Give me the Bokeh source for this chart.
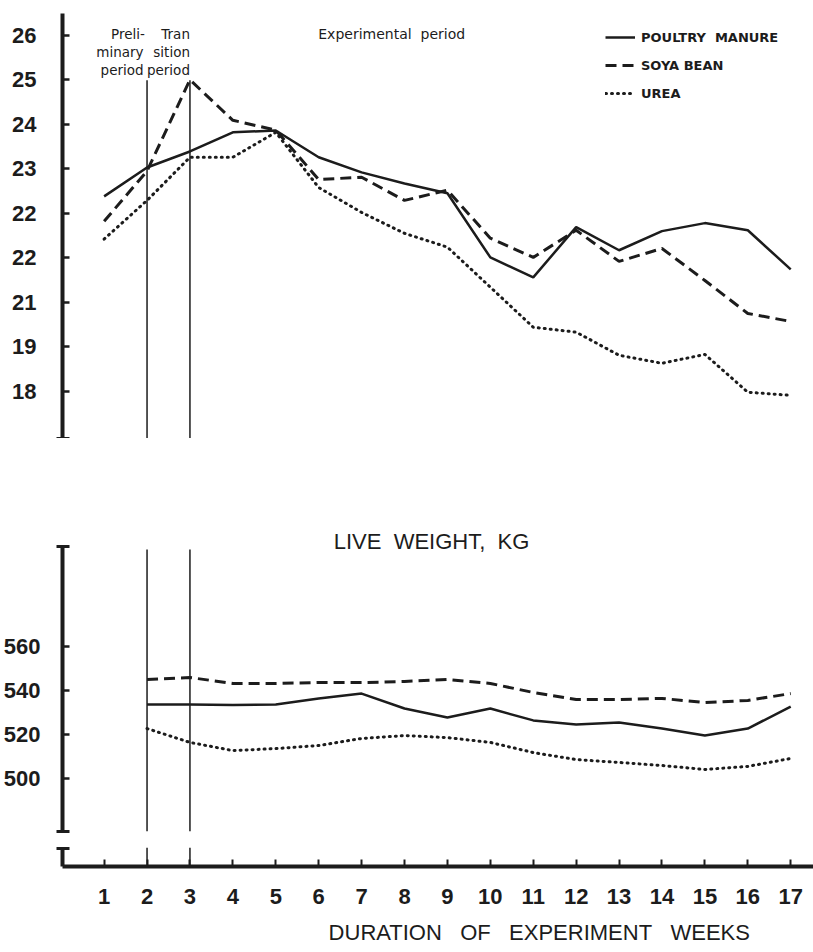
from bokeh.plotting import figure
from bokeh.models import Range1d, FixedTicker, Span, Label
from bokeh.layouts import column
from bokeh.embed import file_html
from bokeh.resources import INLINE

# ---------------- data ----------------
weeks = list(range(1, 18))
# upper panel (values on the printed scale positions)
poultry_top = [22.38, 23.03, 23.39, 23.82, 23.86, 23.26, 22.92, 22.67, 22.45,
               21.01, 20.56, 21.69, 21.17, 21.60, 21.78, 21.62, 20.74]
soya_top = [21.82, 22.95, 25.00, 24.09, 23.87, 22.76, 22.81, 22.29, 22.52,
            21.44, 21.01, 21.62, 20.92, 21.21, 20.49, 19.75, 19.57]
urea_top = [21.42, 22.29, 23.26, 23.26, 23.82, 22.58, 22.02, 21.55, 21.24,
            20.34, 19.44, 19.33, 18.81, 18.63, 18.83, 17.98, 17.91]
top_ticks = [26, 25, 24, 23, 22, 21, 20, 19, 18]
top_tick_labels = ["26", "25", "24", "23", "22", "22", "21", "19", "18"]

# lower panel: live weight, kg (weeks 2..17)
weeks_bottom = list(range(2, 18))
poultry_bottom = [533.6, 533.6, 533.4, 533.6, 536.4, 538.6, 531.8, 527.7,
                  531.8, 526.4, 524.5, 525.5, 522.7, 519.5, 522.7, 532.7]
soya_bottom = [545.0, 545.9, 543.2, 543.2, 543.6, 543.6, 544.1, 545.0,
               543.2, 539.1, 535.9, 535.9, 536.4, 534.5, 535.5, 538.6]
urea_bottom = [522.7, 516.4, 512.7, 513.6, 515.0, 518.2, 519.5, 518.6,
               516.4, 511.8, 508.6, 507.3, 505.9, 504.1, 505.5, 509.1]
bottom_ticks = [500, 520, 540, 560]

NB = "\u00a0"
series_names = ["POULTRY" + NB * 2 + "MANURE", "SOYA" + NB + "BEAN", "UREA"]
period_bounds = [2, 3]
x_tick_labels = [str(w) for w in weeks]

# ---------------- style ----------------
INK = "#1c1c1c"
W = 813
TICK_FONT = "Liberation Sans"
SMALL_FONT = "DejaVu Sans"

xr = Range1d(0.03, 17.531)

TOP_LO, TOP_HI = 16.94, 26.49
BOT_LO, BOT_HI, BOT_AXIS_HI = 475.91, 618.18, 605.45


def base(p):
    p.grid.visible = False
    p.outline_line_color = None
    p.background_fill_color = "white"
    p.border_fill_color = "white"


def style_y(ax, standoff, size="22px"):
    ax.axis_line_width = 4
    ax.axis_line_color = INK
    ax.major_tick_in = 7
    ax.major_tick_out = 0
    ax.major_tick_line_width = 2.5
    ax.major_tick_line_color = INK
    ax.minor_tick_in = 7
    ax.minor_tick_out = 6
    ax.minor_tick_line_width = 3
    ax.minor_tick_line_color = INK
    ax.major_label_text_font = TICK_FONT
    ax.major_label_text_font_size = size
    ax.major_label_text_font_style = "bold"
    ax.major_label_text_color = INK
    ax.major_label_standoff = standoff


def draw_series(p, xs, ys_list, with_legend):
    styles = [dict(line_width=2.5),
              dict(line_width=3, line_dash="11 6"),
              dict(line_width=3, line_dash="1 5", line_cap="round")]
    for ys, st, name in zip(ys_list, styles, series_names):
        kw = dict(st)
        if with_legend:
            kw["legend_label"] = name
        p.line(xs, ys, line_color=INK, **kw)


# ---------------- top panel ----------------
p1 = figure(width=W, height=438, x_range=xr, y_range=Range1d(TOP_LO, TOP_HI),
            output_backend="svg", toolbar_location=None, x_axis_location=None,
            min_border_left=55, min_border_right=0, min_border_top=13,
            min_border_bottom=0)
base(p1)
ay = p1.yaxis[0]
ay.ticker = FixedTicker(ticks=top_ticks, minor_ticks=[TOP_LO + 0.01])
ay.major_label_overrides = {t: l for t, l in zip(top_ticks, top_tick_labels)}
ay.bounds = (TOP_LO, TOP_HI)
style_y(ay, 20)

p1.segment(x0=period_bounds, y0=[TOP_LO] * 2, x1=period_bounds,
           y1=[24.99] * 2, line_width=1.5, line_color=INK)
draw_series(p1, weeks, [poultry_top, soya_top, urea_top], True)

leg = p1.legend[0]
leg.location = (543, 335)
leg.border_line_color = None
leg.background_fill_alpha = 0
leg.glyph_width = 30
leg.glyph_height = 20
leg.label_height = 20
leg.spacing = 8
leg.padding = 0
leg.margin = 0
leg.label_standoff = 6
leg.label_text_font = SMALL_FONT
leg.label_text_font_style = "bold"
leg.label_text_font_size = "13px"
leg.label_text_color = INK

for x, y, t in [(1.95, 26.03, "Preli-"), (1.92, 25.63, "minary"),
                (1.92, 25.22, "period"), (3.0, 26.03, "Tran"),
                (3.0, 25.63, "sition"), (3.0, 25.22, "period")]:
    p1.add_layout(Label(x=x, y=y, text=t, text_align="right",
                        text_baseline="middle", text_font=SMALL_FONT,
                        text_font_size="13.5px", text_color=INK))
p1.add_layout(Label(x=5.99, y=26.03, text="Experimental" + NB * 2 + "period",
                    text_align="left", text_baseline="middle",
                    text_font=SMALL_FONT, text_font_size="14px",
                    text_color=INK))

# ---------------- bottom panel ----------------
p2 = figure(width=W, height=401, x_range=xr, y_range=Range1d(BOT_LO, BOT_HI),
            output_backend="svg", toolbar_location=None, x_axis_location=None,
            min_border_left=55, min_border_right=0, min_border_top=80,
            min_border_bottom=8)
base(p2)
by = p2.yaxis[0]
by.ticker = FixedTicker(ticks=bottom_ticks,
                        minor_ticks=[BOT_LO + 0.04, BOT_AXIS_HI])
by.bounds = (BOT_LO, BOT_AXIS_HI)
style_y(by, 16)

p2.segment(x0=period_bounds, y0=[BOT_LO] * 2, x1=period_bounds,
           y1=[604.1] * 2, line_width=1.5, line_color=INK)
draw_series(p2, weeks_bottom, [poultry_bottom, soya_bottom, urea_bottom], False)

p2.add_layout(Label(x=8.63, y=607.7,
                    text="LIVE" + NB * 2 + "WEIGHT," + NB * 2 + "KG",
                    text_align="center", text_baseline="middle",
                    text_font=TICK_FONT, text_font_size="22px",
                    text_color=INK))

# ---------------- x axis strip ----------------
p3 = figure(width=W, height=77, x_range=xr, y_range=Range1d(0, 1),
            output_backend="svg", toolbar_location=None,
            min_border_left=55, min_border_right=0, min_border_top=8,
            min_border_bottom=50)
base(p3)
cy = p3.yaxis[0]
cy.ticker = FixedTicker(ticks=[], minor_ticks=[0.97])
style_y(cy, 15)

cx = p3.xaxis[0]
cx.ticker = FixedTicker(ticks=weeks)
cx.major_label_overrides = {w: l for w, l in zip(weeks, x_tick_labels)}
cx.axis_line_width = 4
cx.axis_line_color = INK
cx.major_tick_in = 7
cx.major_tick_out = 0
cx.major_tick_line_width = 2
cx.major_tick_line_color = INK
cx.minor_tick_line_color = None
cx.major_label_text_font = TICK_FONT
cx.major_label_text_font_size = "22px"
cx.major_label_text_font_style = "bold"
cx.major_label_text_color = INK
cx.major_label_standoff = 22

for b in period_bounds:
    p3.add_layout(Span(location=b, dimension="height", line_width=1.5,
                       line_color=INK))

# ---------------- x axis title strip ----------------
p4 = figure(width=W, height=34, x_range=xr, y_range=Range1d(0, 1),
            output_backend="svg", toolbar_location=None,
            x_axis_location=None, y_axis_location=None,
            min_border_left=55, min_border_right=0, min_border_top=0,
            min_border_bottom=0)
base(p4)
p4.add_layout(Label(x=11.14, y=0.52,
                    text="DURATION" + NB * 3 + "OF" + NB * 3 + "EXPERIMENT"
                    + NB * 3 + "WEEKS",
                    text_align="center", text_baseline="middle",
                    text_font=TICK_FONT, text_font_size="22px",
                    text_color=INK))

layout = column(p1, p2, p3, p4, spacing=0)
open("out.html", "w").write(file_html(layout, INLINE))
